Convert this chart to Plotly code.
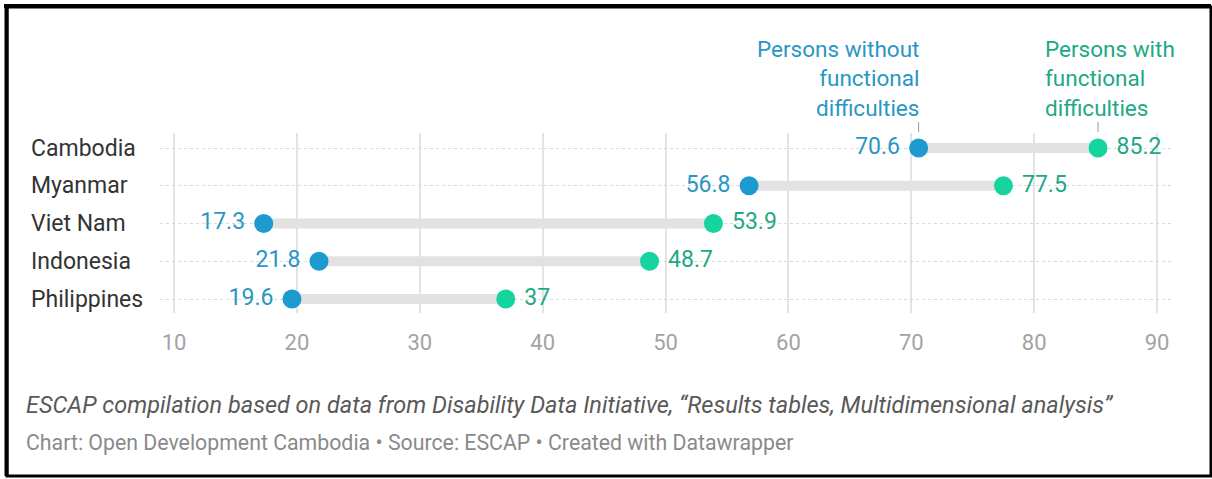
import plotly.graph_objects as go

countries = ["Cambodia", "Myanmar", "Viet Nam", "Indonesia", "Philippines"]
without_fd = [70.6, 56.8, 17.3, 21.8, 19.6]
with_fd = [85.2, 77.5, 53.9, 48.7, 37.0]
tick_vals = [10, 20, 30, 40, 50, 60, 70, 80, 90]
label_without = "Persons without<br>functional<br>difficulties"
label_with = "Persons with<br>functional<br>difficulties"
caption = "ESCAP compilation based on data from Disability Data Initiative, \u201cResults tables, Multidimensional analysis\u201d"
footer = "Chart: Open Development Cambodia \u2022 Source: ESCAP \u2022 Created with Datawrapper"

W, H = 1212, 479
L, R, T, B = 160, 39, 133, 166
PW, PH = W - L - R, H - T - B

def px(x):
    return (x - L) / PW

def py(y):
    return (H - B - y) / PH

BLUE = "#1d9bd1"
GREEN = "#16d49f"
BLUE_T = "#2996c4"
GREEN_T = "#1ea886"
FONT = "Roboto"

fig = go.Figure()

# connectors
cx, cy = [], []
for c, a, b in zip(countries, without_fd, with_fd):
    cx += [a, b, None]
    cy += [c, c, None]
fig.add_trace(go.Scatter(x=cx, y=cy, mode="lines",
                         line=dict(color="#e2e2e2", width=10),
                         hoverinfo="skip", showlegend=False))

fig.add_trace(go.Scatter(x=without_fd, y=countries, mode="markers+text",
                         marker=dict(color=BLUE, size=19),
                         text=[f"{v:g} " for v in without_fd],
                         textposition="middle left",
                         textfont=dict(family=FONT, size=23, color=BLUE_T),
                         showlegend=False))
fig.add_trace(go.Scatter(x=with_fd, y=countries, mode="markers+text",
                         marker=dict(color=GREEN, size=19),
                         text=[f" {v:g}" for v in with_fd],
                         textposition="middle right",
                         textfont=dict(family=FONT, size=23, color=GREEN_T),
                         showlegend=False))

annotations = []
for c in countries:
    annotations.append(dict(x=px(29), xref="paper", y=c, yref="y", text=c,
                            xanchor="left", yanchor="middle", showarrow=False,
                            font=dict(family=FONT, size=23, color="#333333")))

annotations.append(dict(x=without_fd[0], xref="x", y=py(123), yref="paper",
                        text=label_without, xanchor="right", yanchor="bottom",
                        align="right", showarrow=False, xshift=2,
                        font=dict(family=FONT, size=22.5, color=BLUE_T)))
annotations.append(dict(x=px(1043), xref="paper", y=py(123), yref="paper",
                        text=label_with, xanchor="left", yanchor="bottom",
                        align="left", showarrow=False,
                        font=dict(family=FONT, size=22.5, color=GREEN_T)))
annotations.append(dict(x=px(24), xref="paper", y=py(405), yref="paper",
                        text="<i>" + caption + "</i>", xanchor="left", yanchor="middle",
                        showarrow=False,
                        font=dict(family=FONT, size=23.5, color="#595959")))
annotations.append(dict(x=px(24), xref="paper", y=py(442), yref="paper",
                        text=footer, xanchor="left", yanchor="middle",
                        showarrow=False,
                        font=dict(family=FONT, size=21.3, color="#8a8a8a")))

shapes = []
for v in (without_fd[0], with_fd[0]):
    shapes.append(dict(type="line", xref="x", yref="paper", x0=v, x1=v,
                       y0=py(122), y1=py(132), line=dict(color="#999999", width=1)))
# outer frame
shapes.append(dict(type="rect", xref="paper", yref="paper",
                   x0=px(7), x1=px(1211), y0=py(7), y1=py(476),
                   line=dict(color="black", width=3), layer="above"))
shapes.append(dict(type="line", xref="paper", yref="paper",
                   x0=px(4), x1=px(1211), y0=py(6), y1=py(6),
                   line=dict(color="black", width=4)))
shapes.append(dict(type="line", xref="paper", yref="paper",
                   x0=px(6.5), x1=px(6.5), y0=py(4), y1=py(476),
                   line=dict(color="black", width=4)))

fig.update_layout(
    width=W, height=H,
    margin=dict(l=L, r=R, t=T, b=B),
    paper_bgcolor="white", plot_bgcolor="white",
    font=dict(family=FONT),
    annotations=annotations,
    shapes=shapes,
    xaxis=dict(range=[8.86, 91.3], tickvals=tick_vals,
               showgrid=True, gridcolor="#e3e3e3", gridwidth=1.5,
               zeroline=False, showline=False,
               ticks="outside", ticklen=10, tickcolor="rgba(0,0,0,0)",
               tickfont=dict(family=FONT, size=22, color="#a3a3a3")),
    yaxis=dict(type="category", categoryorder="array", categoryarray=countries,
               range=[4.37, -0.4], showticklabels=False,
               showgrid=True, gridcolor="#d9d9d9", griddash="dot", gridwidth=1,
               zeroline=False, showline=False),
)

fig.write_html("out.html")
